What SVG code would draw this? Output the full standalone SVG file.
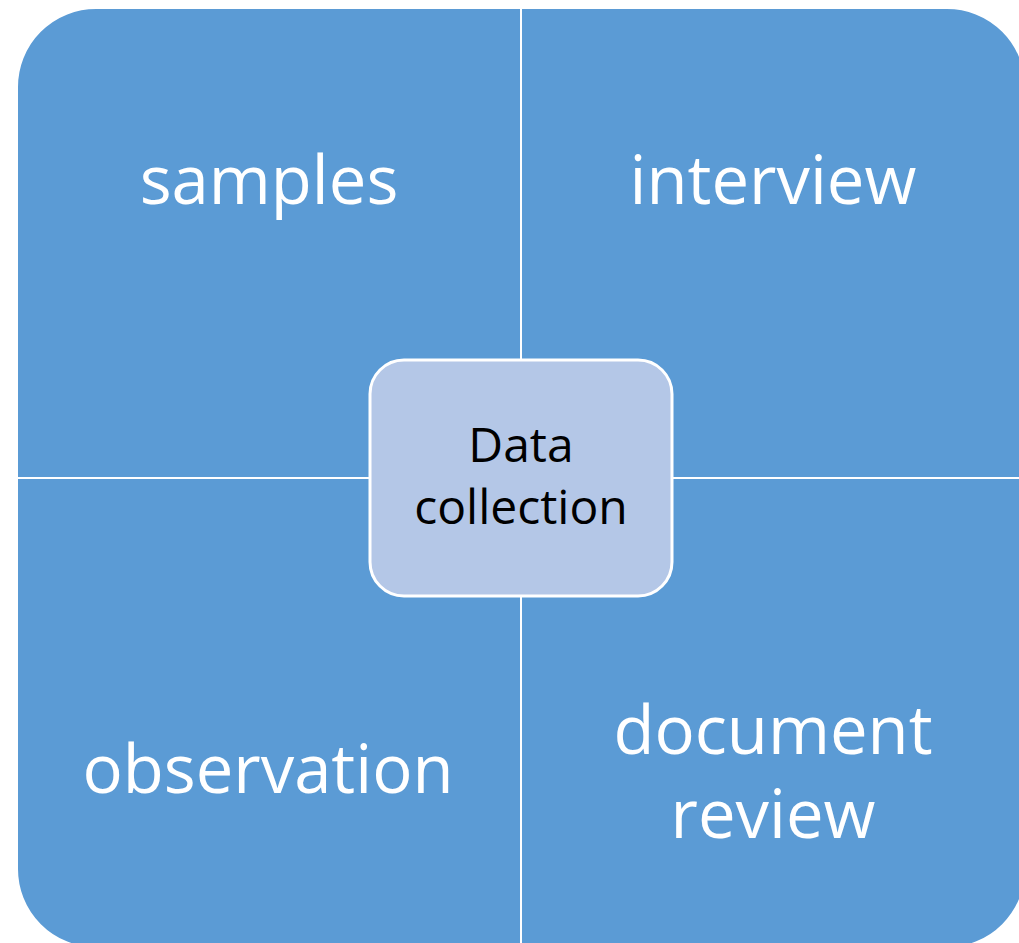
<svg xmlns="http://www.w3.org/2000/svg" width="1019" height="943" viewBox="0 0 1019 943">
<style>
.q{fill:#5B9BD5;stroke:#FFFFFF;stroke-width:2}
.qt{font-family:"Open Sans","Noto Sans",sans-serif;font-size:67px;fill:#FFFFFF;text-anchor:middle}
.c{fill:#B4C7E7;stroke:#FFFFFF;stroke-width:3}
.ct{font-family:"Open Sans","Noto Sans",sans-serif;font-size:48px;fill:#000000;text-anchor:middle}
</style>
<rect width="1019" height="943" fill="#FFFFFF"/>
<g id="samples">
<path class="q" d="M17,87 A79,79 0 0 1 96,8 L521,8 L521,478 L17,478 Z"/>
<text class="qt" x="269" y="204">samples</text>
</g>
<g id="interview">
<path class="q" d="M521,8 L947,8 A79,79 0 0 1 1026,87 L1026,478 L521,478 Z"/>
<text class="qt" x="773" y="204">interview</text>
</g>
<g id="observation">
<path class="q" d="M17,478 L521,478 L521,948 L96,948 A79,79 0 0 1 17,869 Z"/>
<text class="qt" x="268" y="793">observation</text>
</g>
<g id="document-review">
<path class="q" d="M521,478 L1026,478 L1026,869 A79,79 0 0 1 947,948 L521,948 Z"/>
<text class="qt" x="773" y="754">document</text>
<text class="qt" x="773" y="838">review</text>
</g>
<g id="connectors"></g>
<g id="data-collection">
<rect class="c" x="370" y="360" width="302" height="236" rx="34" ry="34"/>
<text class="ct" x="521" y="462">Data</text>
<text class="ct" x="521" y="524">collection</text>
</g>
</svg>
